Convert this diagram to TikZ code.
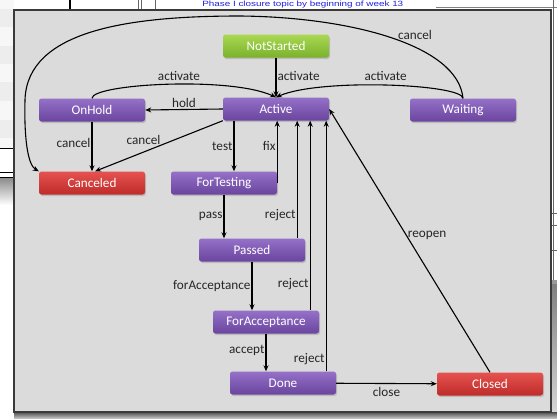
\documentclass[tikz,border=0pt]{standalone}
\usepackage{fontspec}
\setmainfont{Carlito}
\newfontfamily\linkfont{Liberation Sans}
\usetikzlibrary{arrows.meta,shadows,positioning}

\definecolor{purpleTop}{HTML}{9571C8}
\definecolor{purpleBot}{HTML}{6A449E}
\definecolor{greenTop}{HTML}{AAD852}
\definecolor{greenBot}{HTML}{7AB22C}
\definecolor{redTop}{HTML}{E5524F}
\definecolor{redBot}{HTML}{BE2C2A}
\definecolor{panelFill}{HTML}{DBDBDB}
\definecolor{panelLine}{HTML}{3A3A3A}
\definecolor{linkBlue}{HTML}{1F1FE0}

\begin{document}
\begin{tikzpicture}[x=1pt,y=-1pt,
  every node/.style={font=\fontsize{13.2}{15}\selectfont},
  state/.style={rectangle,rounded corners=2.5pt,minimum width=106pt,minimum height=23pt,
    inner sep=0pt,text=white,top color=purpleTop,bottom color=purpleBot,
    drop shadow={opacity=0.35,shadow xshift=1pt,shadow yshift=-1.5pt}},
  startstate/.style={state,top color=greenTop,bottom color=greenBot},
  endstate/.style={state,top color=redTop,bottom color=redBot},
  lbl/.style={text=black!85,inner sep=1pt},
  arr/.style={draw=black,line width=1.1pt,-{Stealth[length=6pt,width=5pt]}}]
\clip (0,0) rectangle (557,418);

% screenshot behind the panel
\fill[white] (0,0) rectangle (557,418);
\foreach \ya/\yb in {9/27,46/64,82/101,120/138}
  \fill[black!7] (0,\ya) rectangle (14,\yb);
\foreach \ya/\yb in {0/9,27/46,64/82,101/120,138/148}
  \fill[black!3] (0,\ya) rectangle (14,\yb);
\draw[black,line width=1pt] (0,148) -- (14,148);
\draw[black,line width=0.8pt] (0,172) -- (14,172);
\draw[black,line width=0.8pt] (0,177) -- (14,177);
\shade[top color=black!45,bottom color=white] (0,178) rectangle (14,205);
\draw[black,line width=1.5pt] (70,0) -- (70,9);
\draw[black!60] (138,0) -- (138,9) (141,0) -- (141,9) (155,0) -- (155,9);
\draw[black!50] (436,7.5) -- (557,7.5);
\node[anchor=base west,inner sep=0pt,text=linkBlue,xscale=1.3,transform shape,
  font=\linkfont\fontsize{7.6}{8}\selectfont] (link) at (202,6.2)
  {\underline{Phase I closure topic by beginning of week 13}};
\draw[black!60] (553,0) -- (553,280);
\draw[black!60] (551,213) -- (557,213) (551,225) -- (557,225) (551,250) -- (557,250);
\fill[black!40] (551,280) rectangle (557,284);
\shade[top color=black!50,bottom color=black!15] (551,284) rectangle (557,418);
\shade[top color=black!70,bottom color=black!25] (14,412) rectangle (557,418);

% panel
\draw[panelLine,line width=2.5pt,fill=panelFill] (14,10) rectangle (551,412);

% states
\node[startstate] (NotStarted) at (276,46) {NotStarted};
\node[state] (Active) at (276,109) {Active};
\node[state] (OnHold) at (92,110) {OnHold};
\node[state] (Waiting) at (463,110) {Waiting};
\node[endstate] (Canceled) at (92,183) {Canceled};
\node[state] (ForTesting) at (224,183) {ForTesting};
\node[state] (Passed) at (252,250) {Passed};
\node[state] (ForAcceptance) at (266,322) {ForAcceptance};
\node[state] (Done) at (283,383) {Done};
\node[endstate] (Closed) at (490,384) {Closed};

% transitions
\draw[arr] (NotStarted) -- node[lbl,right,pos=0.45] {activate} (Active);
\draw[arr] (OnHold.north) .. controls (92,84) and (230,76) .. node[lbl,above=2.5pt,pos=0.55] {activate} (Active.north);
\draw[arr] (Waiting.north) .. controls (462,84) and (320,78) .. node[lbl,above=3.5pt,pos=0.5] {activate} (Active.north);
\draw[arr] (Waiting.north) .. controls (458,45) and (350,17) .. (240,16)
  .. controls (130,16) and (27,30) .. (25,100)
  .. controls (24,140) and (28,165) .. (Canceled.north west);
\node[lbl] (cancelTop) at (415,35) {cancel};
\draw[arr] (Active.west) -- node[lbl,above] {hold} (OnHold.east);
\draw[arr] (OnHold) -- node[lbl,left,pos=0.42] {cancel} (Canceled);
\draw[arr] (Active.south west) -- node[lbl,above=6pt,pos=0.62] {cancel} ([xshift=3pt]Canceled.north);
\draw[arr] ([xshift=-42pt]Active.south) -- node[lbl,left] {test} ([xshift=-42pt]Active.south |- ForTesting.north);
\draw[arr] (ForTesting.east) -- node[lbl,left,pos=0.6] {fix} (ForTesting.east |- Active.south);
\draw[arr] (ForTesting) -- node[lbl,left] {pass} (ForTesting |- Passed.north);
\draw[arr] ([xshift=-8pt]Passed.north east) -- node[lbl,left,pos=0.2] {reject} ([xshift=-8pt]Passed.north east |- Active.south);
\draw[arr] (Passed) -- node[lbl,left] {forAcceptance} (Passed |- ForAcceptance.north);
\draw[arr] ([xshift=-9pt]ForAcceptance.north east) -- node[lbl,left,pos=0.14] {reject} ([xshift=-9pt]ForAcceptance.north east |- Active.south);
\draw[arr] (ForAcceptance) -- node[lbl,left,pos=0.45] {accept} (ForAcceptance |- Done.north);
\draw[arr] ([xshift=-10pt]Done.north east) -- node[lbl,left,pos=0.05] {reject} ([xshift=-10pt]Done.north east |- Active.south);
\draw[arr] (Done) -- node[lbl,below=2pt] {close} (Closed);
\draw[arr] (Closed.north) -- node[lbl,right,pos=0.52] {reopen} (Active.east);
\end{tikzpicture}
\end{document}
